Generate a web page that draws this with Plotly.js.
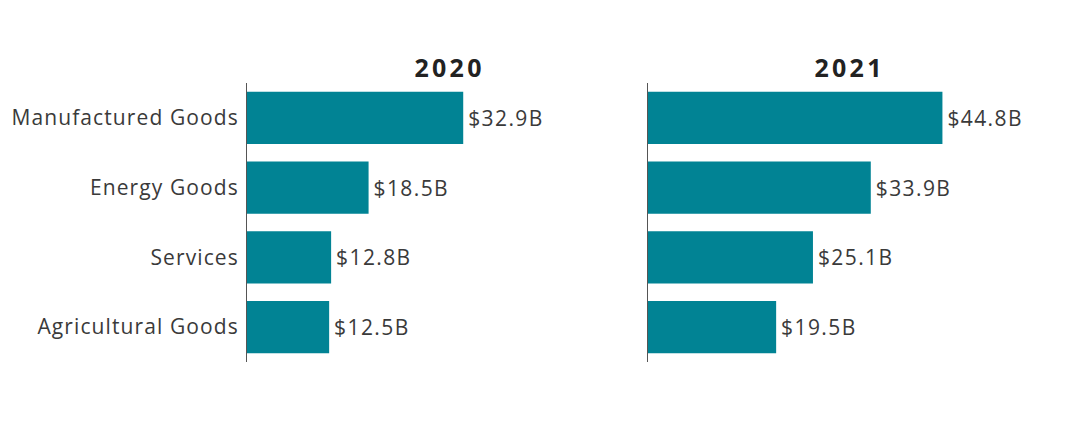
<!DOCTYPE html>
<html>
<head>
<meta charset="utf-8">
<script src="https://cdn.plot.ly/plotly-3.0.1.min.js"></script>
<style>
html,body{margin:0;padding:0;background:#fff;}
#chart{width:1080px;height:424px;}
#chart .ytick text{letter-spacing:1.1px;}
#chart text.bartext{letter-spacing:1.4px;}
#chart text.annotation-text{letter-spacing:3.3px;}
</style>
</head>
<body>
<div id="chart"></div>
<script>
const categories = ["Manufactured Goods", "Energy Goods", "Services", "Agricultural Goods"];
const values2020 = [32.9, 18.5, 12.8, 12.5];
const values2021 = [44.8, 33.9, 25.1, 19.5];
const panelTitles = ["2020", "2021"];

const barColor = "#018394";
const tickFont = {family: "'Open Sans', sans-serif", size: 21, color: "#3a3a3a"};
const valueFont = {family: "'Open Sans', sans-serif", size: 21, color: "#3a3a3a"};

function barTrace(vals, xa, ya) {
  return {
    type: "bar", orientation: "h",
    x: vals, y: categories,
    xaxis: xa, yaxis: ya,
    marker: {color: barColor},
    width: 0.75,
    text: vals.map(v => "\u00a0$" + v.toFixed(1) + "B"),
    textposition: "outside",
    textfont: valueFont,
    cliponaxis: false,
    hoverinfo: "skip"
  };
}

const xRange = [0, 56.3];
const titleFont = {family: "'Open Sans', sans-serif", size: 25, color: "#222222"};
const layout = {
  width: 1080, height: 424,
  margin: {l: 247, r: 62, t: 83, b: 62},
  paper_bgcolor: "#ffffff", plot_bgcolor: "#ffffff",
  showlegend: false,
  xaxis: {domain: [0, 0.4799], range: xRange, visible: false, fixedrange: true},
  xaxis2: {domain: [0.5201, 1], range: xRange, visible: false, fixedrange: true},
  yaxis: {
    anchor: "x", autorange: "reversed", showline: true, linecolor: "#555555", linewidth: 1,
    showgrid: false, zeroline: false, ticks: "", ticklabelstandoff: 3,
    tickfont: tickFont
  },
  yaxis2: {
    anchor: "x2", autorange: "reversed", showline: true, linecolor: "#555555", linewidth: 1,
    showgrid: false, zeroline: false, ticks: "", showticklabels: false
  },
  annotations: [
    {text: "<b>" + panelTitles[0] + "</b>", xref: "x domain", yref: "paper", x: 202/370, y: 1, yanchor: "bottom", xanchor: "center", showarrow: false, yshift: -3, font: titleFont},
    {text: "<b>" + panelTitles[1] + "</b>", xref: "x2 domain", yref: "paper", x: 202/370, y: 1, yanchor: "bottom", xanchor: "center", showarrow: false, yshift: -3, font: titleFont}
  ]
};

Plotly.newPlot("chart", [barTrace(values2020, "x", "y"), barTrace(values2021, "x2", "y2")], layout, {displayModeBar: false, staticPlot: true});
</script>
</body>
</html>
